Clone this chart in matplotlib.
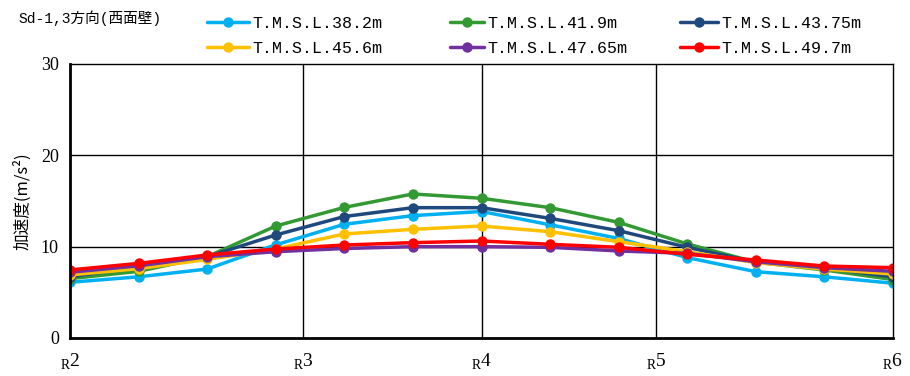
import matplotlib
matplotlib.use("Agg")
import matplotlib.pyplot as plt

# ---- data ----
x_pos = [0, 2, 4, 6, 8, 10, 12, 14, 16, 18, 20, 22, 24]
axis_pos = [0, 6.8, 12.0, 17.1, 24]
axis_labels = ["2", "3", "4", "5", "6"]

series_labels = ["T.M.S.L.38.2m", "T.M.S.L.41.9m", "T.M.S.L.43.75m",
                 "T.M.S.L.45.6m", "T.M.S.L.47.65m", "T.M.S.L.49.7m"]
s_38_2 = [6.1, 6.7, 7.55, 10.2, 12.45, 13.4, 13.85, 12.4, 10.9, 8.8, 7.26, 6.7, 6.0]
s_41_9 = [6.5, 7.3, 8.9, 12.26, 14.3, 15.77, 15.3, 14.27, 12.66, 10.3, 8.3, 7.45, 6.4]
s_43_75 = [6.7, 7.8, 8.9, 11.28, 13.3, 14.27, 14.27, 13.1, 11.75, 9.93, 8.3, 7.65, 6.7]
s_45_6 = [6.9, 7.6, 8.6, 9.75, 11.39, 11.9, 12.26, 11.64, 10.55, 9.45, 8.25, 7.55, 7.0]
s_47_65 = [7.2, 7.9, 8.9, 9.45, 9.8, 10.0, 10.0, 9.93, 9.53, 9.27, 8.35, 7.7, 7.3]
s_49_7 = [7.45, 8.17, 9.09, 9.74, 10.18, 10.44, 10.62, 10.26, 9.93, 9.16, 8.54, 7.88, 7.7]
series = [s_38_2, s_41_9, s_43_75, s_45_6, s_47_65, s_49_7]
colors = ["#00B0F0", "#339933", "#1F497D", "#FFC000", "#7030A0", "#FF0000"]

plt.rcParams['mathtext.fontset'] = 'custom'
plt.rcParams['mathtext.rm'] = 'Liberation Serif'
plt.rcParams['font.family'] = ['Liberation Serif', 'Noto Sans CJK JP']

fig = plt.figure(figsize=(9.10, 3.76), dpi=100)
ax = fig.add_axes([70/910, 1-338/376, (893-70)/910, (338-64)/376])

handles = []
for vals, c, lab in zip(series, colors, series_labels):
    h, = ax.plot(x_pos, vals, color=c, lw=2.5, marker='o', ms=7.5,
                 markeredgewidth=0, label=lab, solid_capstyle='round')
    handles.append(h)

ax.set_xlim(axis_pos[0], axis_pos[-1])
ax.set_ylim(0, 30)
ax.set_yticks([0, 10, 20, 30])
ax.set_yticklabels(["0", "10", "20", "30"], fontsize=13)
ax.set_xticks(axis_pos)
ax.set_xticklabels([r"$_{\mathrm{R}}$" + a for a in axis_labels], fontsize=14)
ax.tick_params(length=0, pad=8)
ax.tick_params(axis='x', pad=10)

for y in [10, 20]:
    ax.axhline(y, color='black', lw=1.0, zorder=0.5)
for xv in axis_pos[1:-1]:
    ax.axvline(xv, color='black', lw=1.0, zorder=0.5)

for side in ['left', 'bottom']:
    ax.spines[side].set_linewidth(2.0)
for side in ['top', 'right']:
    ax.spines[side].set_linewidth(1.0)

ax.set_ylabel("加速度(m/s²)", fontsize=12, family=['Noto Sans CJK JP'], labelpad=7)

fig.text(18/910, 1-18/376, "Sd-1,3方向(西面壁)", fontsize=10.5,
         family=['Liberation Mono', 'Noto Sans CJK JP'], va='center', ha='left')

leg_x = [207/910, 450/910, 680/910]
hl = [2.5, 2.05, 2.3]
for i in range(3):
    hs = [handles[i], handles[i+3]]
    fig.legend(hs, [h.get_label() for h in hs], loc='upper left',
               bbox_to_anchor=(leg_x[i], 1-16/376), frameon=False,
               prop={'family': 'Liberation Mono', 'size': 12},
               handlelength=hl[i], handletextpad=0.2, labelspacing=0.62,
               borderpad=0, borderaxespad=0)

fig.savefig("out.png", dpi=100)
